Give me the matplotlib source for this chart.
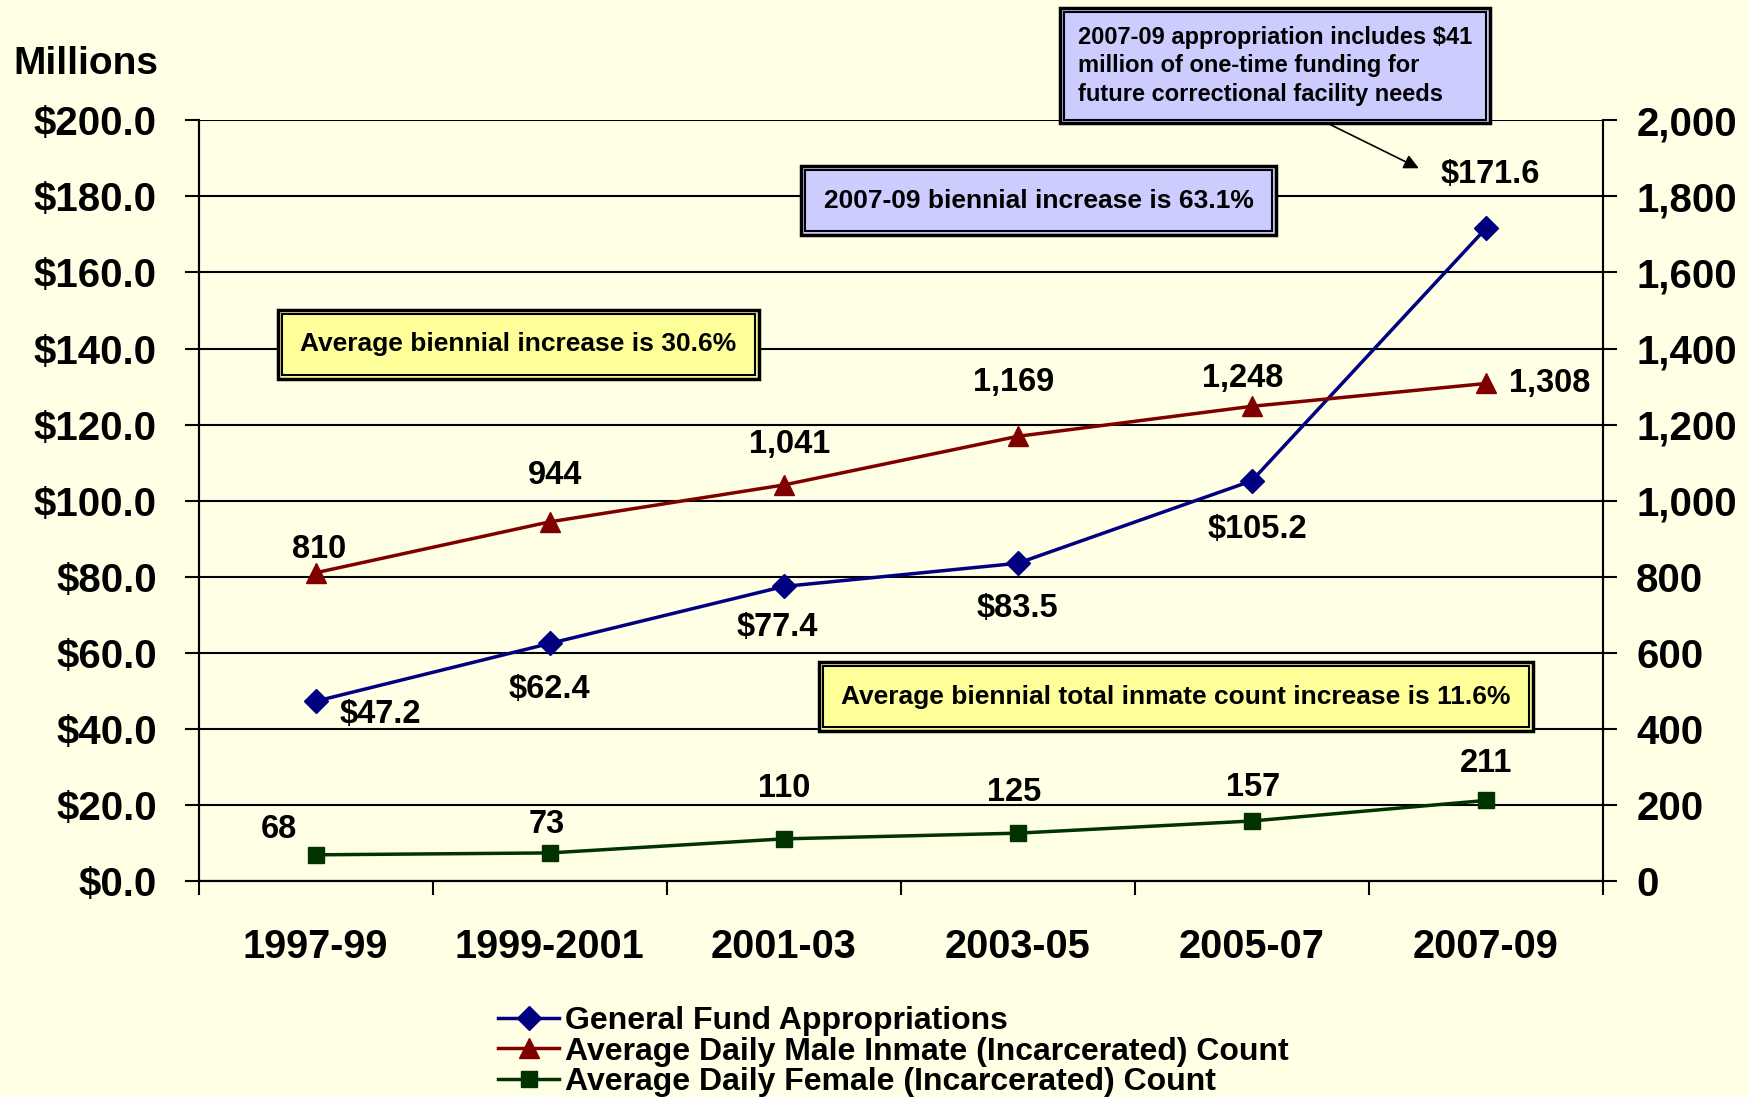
import matplotlib.pyplot as plt
from matplotlib.ticker import FuncFormatter, FixedLocator

periods = ['1997-99', '1999-2001', '2001-03', '2003-05', '2005-07', '2007-09']
general_fund = [47.2, 62.4, 77.4, 83.5, 105.2, 171.6]
male_count = [810, 944, 1041, 1169, 1248, 1308]
female_count = [68, 73, 110, 125, 157, 211]

# label offsets in pixels (dx, dy)
fund_off = [(65, -13), (0, -46), (-6, -41), (0, -45), (6, -49), (4, 54)]
male_off = [(4, 23), (5, 46), (6, 40), (-4, 54), (-9, 28), (64, 0)]
female_off = [(-37, 25), (-3, 28), (0, 50), (-4, 41), (1, 33), (0, 37)]

bg = '#FFFFE5'
plt.rcParams['font.family'] = ['Liberation Sans', 'DejaVu Sans']
plt.rcParams['font.weight'] = 'bold'

fig = plt.figure(figsize=(17.48, 10.97), dpi=100, facecolor=bg)
ax = fig.add_axes([0.1136, 0.1972, 0.8034, 0.693])
ax.set_facecolor(bg)
ax2 = ax.twinx()

x = list(range(len(periods)))
ax.plot(x, general_fund, color='#000080', lw=2.5, marker='D', ms=12,
        label='General Fund Appropriations', zorder=5)
ax2.plot(x, male_count, color='#800000', lw=2.5, marker='^', ms=15,
         label='Average Daily Male Inmate (Incarcerated) Count', zorder=5)
ax2.plot(x, female_count, color='#003300', lw=2.5, marker='s', ms=12,
         label='Average Daily Female (Incarcerated) Count', zorder=5)

ax.set_xlim(-0.5, 5.5)
ax.set_ylim(0, 200)
ax2.set_ylim(0, 2000)
ax.set_yticks(range(0, 201, 20))
ax2.set_yticks(range(0, 2001, 200))
ax.yaxis.set_major_formatter(FuncFormatter(lambda v, p: f'${v:.1f}'))
ax2.yaxis.set_major_formatter(FuncFormatter(lambda v, p: f'{int(v):,}'))
ax.grid(axis='y', color='black', lw=1.5)
ax.set_axisbelow(True)

ax.xaxis.set_major_locator(FixedLocator([i - 0.5 for i in range(7)]))
ax.xaxis.set_minor_locator(FixedLocator(x))
ax.set_xticklabels([])
ax.set_xticklabels(periods, minor=True)
ax.tick_params(axis='x', which='major', length=10, width=1.5, direction='out')
ax.tick_params(axis='x', which='minor', length=0, pad=34, labelsize=28.5)
ax.tick_params(axis='y', length=10, width=1.5, pad=20, labelsize=29)
ax2.tick_params(axis='y', length=10, width=1.5, pad=14, labelsize=29)

for a in (ax, ax2):
    a.spines['top'].set_visible(False)
    for s in ('left', 'right', 'bottom'):
        a.spines[s].set_linewidth(1.5)

for i in x:
    ax.annotate(f'${general_fund[i]:.1f}', (i, general_fund[i]), xytext=fund_off[i],
                textcoords='offset pixels', ha='center', va='center', fontsize=23.5)
    ax2.annotate(f'{male_count[i]:,}', (i, male_count[i]), xytext=male_off[i],
                 textcoords='offset pixels', ha='center', va='center', fontsize=23.5)
    ax2.annotate(f'{female_count[i]:,}', (i, female_count[i]), xytext=female_off[i],
                 textcoords='offset pixels', ha='center', va='center', fontsize=23.5)


def double_box(xp, yp, txt, color, size, ha='center'):
    for pad, lw in ((0.85, 2.5), (0.7, 1.5)):
        ax.text(xp, yp, txt, ha=ha, va='center', fontsize=size, zorder=6, clip_on=False,
                bbox=dict(boxstyle=f'square,pad={pad}', fc=color, ec='black', lw=lw))


double_box(3.09, 178.9, '2007-09 biennial increase is 63.1%', '#CCCCFF', 19)
double_box(0.867, 141.1, 'Average biennial increase is 30.6%', '#FFFF99', 19)
double_box(3.676, 48.4, 'Average biennial total inmate count increase is 11.6%', '#FFFF99', 19)

note = '2007-09 appropriation includes $41\nmillion of one-time funding for\nfuture correctional facility needs'
for pad, lw in ((0.75, 2.5), (0.6, 1.5)):
    ax.text(3.257, 214.4, note, ha='left', va='center', fontsize=17, zorder=6, clip_on=False,
            linespacing=1.3,
            bbox=dict(boxstyle=f'square,pad={pad}', fc='#CCCCFF', ec='black', lw=lw))
ax.annotate('', xy=(4.724, 187.1), xytext=(4.319, 199.4), annotation_clip=False,
            arrowprops=dict(arrowstyle='-|>', color='black', lw=1.2, mutation_scale=22))

fig.text(0.049, 0.942, 'Millions', ha='center', va='center', fontsize=28)

h1, l1 = ax.get_legend_handles_labels()
h2, l2 = ax2.get_legend_handles_labels()
fig.legend(h1 + h2, l1 + l2, loc='upper left', bbox_to_anchor=(0.285, 0.083),
           frameon=False, handlelength=1.9, handletextpad=0.2,
           labelspacing=0.02, borderpad=0, borderaxespad=0,
           prop={'family': 'Liberation Sans', 'weight': 'bold', 'size': 23})

fig.savefig('out.png', dpi=100, facecolor=bg)
